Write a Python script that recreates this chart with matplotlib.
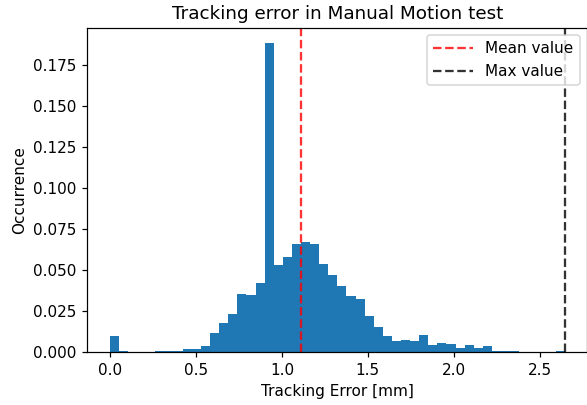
import numpy as np
import matplotlib
matplotlib.use('Agg')
import matplotlib.pyplot as plt

# occurrence per bin (50 bins between 0 and the max error)
occurrence = [0.0095, 0.0008, 0.0, 0.0, 0.0, 0.0005, 0.0005, 0.0005, 0.0016, 0.0016,
              0.0036, 0.0113, 0.0174, 0.0229, 0.0351, 0.0344, 0.0418, 0.1880, 0.0527, 0.0576,
              0.0655, 0.0667, 0.0655, 0.0533, 0.0466, 0.0399, 0.0338, 0.0323, 0.0217, 0.0152,
              0.0097, 0.0065, 0.0071, 0.0065, 0.0101, 0.0040, 0.0053, 0.0046, 0.0023, 0.0040,
              0.0023, 0.0034, 0.0004, 0.0004, 0.0004, 0.0, 0.0, 0.0, 0.0, 0.0004]
mean_err = 1.110
max_err = 2.645

edges = np.linspace(0, max_err, len(occurrence) + 1)
centers = (edges[:-1] + edges[1:]) / 2

dpi = 110
fig = plt.figure(figsize=(587 / dpi, 405 / dpi), dpi=dpi)
ax = fig.add_axes([0.1487, 0.1309, 0.852, 0.8007])

ax.hist(centers, bins=edges, weights=occurrence)
ax.axvline(mean_err, color='r', linestyle='--', alpha=0.8, label='Mean value')
ax.axvline(max_err, color='k', linestyle='--', alpha=0.8, label='Max value')

ax.set_title('Tracking error in Manual Motion test')
ax.set_xlabel('Tracking Error [mm]')
ax.set_ylabel('Occurrence')
ax.legend(loc='upper right', handlelength=2.6)

fig.savefig('out.png', dpi=dpi)
